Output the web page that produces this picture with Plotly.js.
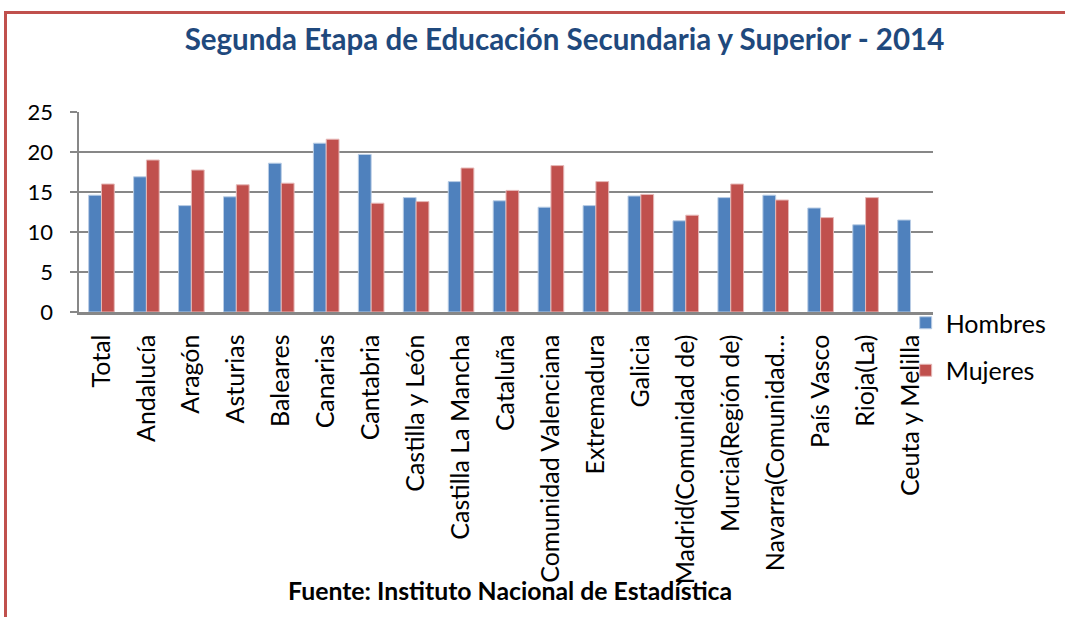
<!DOCTYPE html>
<html>
<head>
<meta charset="utf-8">
<script src="https://cdn.plot.ly/plotly-3.0.1.min.js"></script>
<style>
  html, body { margin: 0; padding: 0; background: #ffffff; overflow: hidden; }
  #frame { position: absolute; left: 4px; top: 11px; width: 1200px; height: 800px;
           border-left: 3px solid #C0504D; border-top: 3px solid #C0504D; pointer-events: none; z-index: 5; }
  #chart { position: absolute; left: 0; top: 0; width: 1065px; height: 617px; }
</style>
</head>
<body>
<div id="chart"></div>
<div id="frame"></div>
<script>
const categories = ["Total", "Andalucía", "Aragón", "Asturias", "Baleares", "Canarias", "Cantabria",
  "Castilla y León", "Castilla La Mancha", "Cataluña", "Comunidad Valenciana", "Extremadura",
  "Galicia", "Madrid(Comunidad de)", "Murcia(Región de)", "Navarra(Comunidad…", "País Vasco",
  "Rioja(La)", "Ceuta y Melilla"];
const hombres = [14.6, 16.9, 13.3, 14.4, 18.6, 21.1, 19.7, 14.3, 16.3, 13.9, 13.1, 13.3, 14.5, 11.4, 14.3, 14.6, 13.0, 10.9, 11.5];
const mujeres = [16.0, 19.0, 17.75, 15.9, 16.1, 21.6, 13.6, 13.8, 18.0, 15.2, 18.3, 16.3, 14.7, 12.1, 16.0, 14.0, 11.8, 14.3, null];
const yTicks = [0, 5, 10, 15, 20, 25];
const titleText = "Segunda Etapa de Educación Secundaria y Superior - 2014";
const sourceText = "Fuente: Instituto Nacional de Estadística";

const FONT = "Lato, 'Open Sans', sans-serif";
const GRID = "#878787";

const traces = [
  { type: "bar", name: "Hombres", x: categories, y: hombres, legendgroup: "h",
    marker: { color: "#4F81BD", line: { color: "#B9CDE5", width: 1 } } },
  { type: "bar", name: "Mujeres", x: categories, y: mujeres, legendgroup: "m",
    marker: { color: "#C0504D", line: { color: "#E6B9B8", width: 1 } } }
];

const layout = {
  width: 1065, height: 617,
  paper_bgcolor: "rgba(0,0,0,0)", plot_bgcolor: "rgba(0,0,0,0)",
  margin: { l: 79, r: 132, t: 112, b: 305 },
  font: { family: FONT, color: "#000000" },
  barmode: "group", bargap: 0.43, bargroupgap: 0,
  title: { text: "<b>" + titleText + "</b>", font: { family: FONT, size: 29.5, color: "#1F497D" },
           x: 0.53, xanchor: "center", xref: "container", y: 0.935, yanchor: "middle", yref: "container" },
  xaxis: { type: "category", tickangle: -90, ticks: "", showgrid: false,
           showline: true, linecolor: GRID, linewidth: 2.5,
           tickfont: { family: FONT, size: 25, color: "#000" }, ticklabelstandoff: 10,
           fixedrange: true },
  yaxis: { range: [0, 25], tickvals: yTicks, ticks: "outside", ticklen: 7, tickcolor: GRID, tickwidth: 2.5,
           showgrid: true, gridcolor: GRID, gridwidth: 2.5, zeroline: false,
           showline: true, linecolor: GRID, linewidth: 2.5,
           tickfont: { family: FONT, size: 22, color: "#000" }, ticklabelstandoff: 12,
           fixedrange: true },
  legend: { x: 0.968, xanchor: "left", y: 0.06, yanchor: "top", yref: "paper",
            font: { family: FONT, size: 25, color: "#000" }, tracegroupgap: 12,
            bgcolor: "rgba(0,0,0,0)", itemwidth: 30 },
  annotations: [
    { text: "<b>" + sourceText + "</b>", xref: "paper", yref: "paper", x: 0.505, y: -1.39,
      xanchor: "center", yanchor: "middle", showarrow: false,
      font: { family: FONT, size: 24.8, color: "#000" } }
  ]
};

Plotly.newPlot("chart", traces, layout, { displayModeBar: false, staticPlot: true });
</script>
</body>
</html>
